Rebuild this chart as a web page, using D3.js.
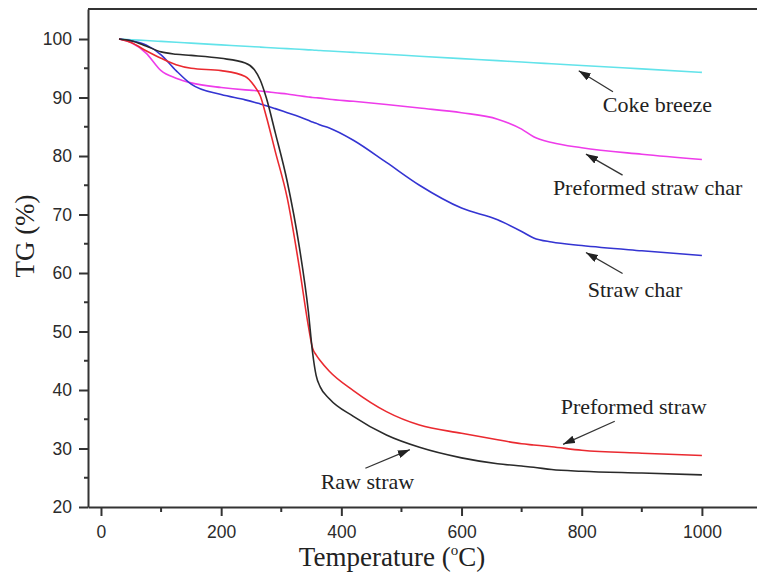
<!DOCTYPE html>
<html>
<head>
<meta charset="utf-8">
<script src="https://cdn.jsdelivr.net/npm/d3@7"></script>
<style>
  html, body { margin: 0; padding: 0; background: #fff; overflow: hidden; }
  svg { display: block; }
</style>
</head>
<body>
<svg id="chart" width="757" height="577"></svg>
<script>
// Temperature grid (°C) shared by all thermogravimetric curves
const temperature = [30, 50, 75, 100, 125, 150, 200, 240, 255, 265, 275, 290, 310, 330, 345,
  352, 358, 365, 380, 420, 475, 530, 600, 660, 700, 720, 750, 800, 900, 1000];

// Mass remaining (TG, %) for each sample
const cokeBreeze = [100, 99.88, 99.74, 99.59, 99.44, 99.29, 99.0, 98.77, 98.68, 98.62, 98.56, 98.47,
  98.35, 98.24, 98.15, 98.11, 98.07, 98.03, 97.94, 97.71, 97.39, 97.06, 96.65, 96.3, 96.06, 95.95,
  95.77, 95.48, 94.89, 94.3];
const preformedStrawChar = [100, 99.4, 97.6, 94.6, 93.3, 92.5, 91.7, 91.3, 91.2, 91.1, 91.0, 90.8,
  90.6, 90.3, 90.1, 90.0, 89.95, 89.9, 89.7, 89.35, 88.8, 88.2, 87.4, 86.3, 84.6, 83.3, 82.3, 81.4,
  80.3, 79.4];
const strawChar = [100, 99.7, 99.0, 97.3, 94.6, 92.3, 90.5, 89.6, 89.2, 88.9, 88.6, 88.1, 87.4, 86.7,
  86.1, 85.8, 85.6, 85.3, 84.8, 82.7, 78.9, 75.0, 71.1, 69.1, 67.1, 66.0, 65.3, 64.7, 63.8, 63.0];
const preformedStraw = [100, 99.4, 98.0, 96.7, 95.6, 95.0, 94.6, 93.6, 92.0, 90.3, 86.8, 80.8, 72.8,
  61.0, 51.0, 47.2, 46.0, 45.0, 43.2, 39.9, 36.3, 34.0, 32.6, 31.5, 30.8, 30.6, 30.3, 29.7, 29.2, 28.8];
const rawStraw = [100, 99.7, 98.8, 97.8, 97.4, 97.2, 96.7, 95.9, 94.8, 93.0, 90.0, 84.0, 75.6, 64.5,
  53.5, 46.5, 42.5, 40.5, 38.5, 35.5, 32.3, 30.2, 28.4, 27.4, 27.0, 26.8, 26.4, 26.1, 25.8, 25.5];

// Axis ticks
const xTicks = [0, 200, 400, 600, 800, 1000];
const xMinorTicks = [100, 300, 500, 700, 900];
const yTicks = [20, 30, 40, 50, 60, 70, 80, 90, 100];
const yMinorTicks = [25, 35, 45, 55, 65, 75, 85, 95];

// Curve drawing order and colours
const seriesNames = ["Coke breeze", "Preformed straw char", "Straw char", "Preformed straw", "Raw straw"];
const seriesValues = [cokeBreeze, preformedStrawChar, strawChar, preformedStraw, rawStraw];
const seriesColors = ["#62e3ea", "#ee3cea", "#3434d2", "#ea2a30", "#2a2a2a"];

// Annotation labels: text anchor point and arrow (tail -> head) in data units
const labelText = ["Coke breeze", "Preformed straw char", "Straw char", "Preformed straw", "Raw straw"];
const labelAt = [[835, 87.56], [752, 73.3], [810, 55.92], [765, 35.97], [365.6, 23.02]];
const arrowFrom = [[852, 90.98], [868, 76.74], [868, 59.92], [855, 34.66], [440, 26.62]];
const arrowTo = [[795, 94.58], [807, 80.33], [807, 63.51], [769, 30.72], [514, 29.8]];

const svg = d3.select("#chart");
const plot = { left: 88, right: 762, top: 9, bottom: 507 };

const x = d3.scaleLinear().domain([-21.6, 1100]).range([plot.left, plot.right]);
const y = d3.scaleLinear().domain([20, 105.13]).range([plot.bottom, plot.top]);

const axisColor = "#333";
const sansFont = "'Liberation Sans', Arial, sans-serif";
const serifFont = "'Liberation Serif', 'Times New Roman', serif";

// Curves
const line = d3.line()
  .x(d => x(d[0]))
  .y(d => y(d[1]))
  .curve(d3.curveMonotoneX);

svg.append("g").selectAll("path")
  .data(seriesValues.map((vals, i) => ({ name: seriesNames[i], color: seriesColors[i],
    pts: temperature.map((t, j) => [t, vals[j]]) })))
  .join("path")
  .attr("d", d => line(d.pts))
  .attr("fill", "none")
  .attr("stroke", d => d.color)
  .attr("stroke-width", 1.6)
  .attr("stroke-linejoin", "round");

// Frame: top edge
svg.append("line")
  .attr("x1", plot.left).attr("x2", plot.right)
  .attr("y1", plot.top).attr("y2", plot.top)
  .attr("stroke", axisColor).attr("stroke-width", 2);

// Bottom axis
const xAxis = svg.append("g")
  .attr("transform", `translate(0,${plot.bottom})`)
  .call(d3.axisBottom(x).tickValues(xTicks).tickSize(9).tickSizeOuter(0).tickPadding(10)
    .tickFormat(d3.format("d")));
xAxis.append("g").selectAll("line")
  .data(xMinorTicks).join("line")
  .attr("x1", d => x(d)).attr("x2", d => x(d))
  .attr("y1", 0).attr("y2", 5)
  .attr("stroke", axisColor).attr("stroke-width", 2);

// Left axis
const yAxis = svg.append("g")
  .attr("transform", `translate(${plot.left},0)`)
  .call(d3.axisLeft(y).tickValues(yTicks).tickSize(9).tickSizeOuter(0).tickPadding(7)
    .tickFormat(d3.format("d")));
yAxis.append("g").selectAll("line")
  .data(yMinorTicks).join("line")
  .attr("x1", 0).attr("x2", -4)
  .attr("y1", d => y(d)).attr("y2", d => y(d))
  .attr("stroke", axisColor).attr("stroke-width", 2);

[xAxis, yAxis].forEach(g => {
  g.select(".domain").attr("stroke", axisColor).attr("stroke-width", 2);
  g.selectAll(".tick line").attr("stroke", axisColor).attr("stroke-width", 2);
  g.selectAll(".tick text")
    .attr("fill", "#2b2b2b")
    .style("font-family", sansFont)
    .style("font-size", "17.5px");
});

// Axis titles
svg.append("text")
  .attr("transform", `translate(34,236) rotate(-90)`)
  .attr("text-anchor", "middle")
  .style("font-family", serifFont)
  .style("font-size", "27px")
  .attr("fill", "#222")
  .text("TG (%)");

const xTitle = svg.append("text")
  .attr("x", 392).attr("y", 566)
  .attr("text-anchor", "middle")
  .style("font-family", serifFont)
  .style("font-size", "27px")
  .attr("fill", "#222");
xTitle.append("tspan").text("Temperature (");
xTitle.append("tspan").attr("dy", -11).style("font-size", "15px").text("o");
xTitle.append("tspan").attr("dy", 11).text("C)");

// Annotations with arrows
const defs = svg.append("defs");
defs.append("marker")
  .attr("id", "arrowhead")
  .attr("viewBox", "0 0 12 8")
  .attr("refX", 12).attr("refY", 4)
  .attr("markerWidth", 12).attr("markerHeight", 8)
  .attr("markerUnits", "userSpaceOnUse")
  .attr("orient", "auto")
  .append("path")
  .attr("d", "M0,0 L12,4 L0,8 Z")
  .attr("fill", "#222");

const notes = svg.append("g");
labelText.forEach((t, i) => {
  notes.append("line")
    .attr("x1", x(arrowFrom[i][0])).attr("y1", y(arrowFrom[i][1]))
    .attr("x2", x(arrowTo[i][0])).attr("y2", y(arrowTo[i][1]))
    .attr("stroke", "#333").attr("stroke-width", 1.3)
    .attr("marker-end", "url(#arrowhead)");
  notes.append("text")
    .attr("x", x(labelAt[i][0])).attr("y", y(labelAt[i][1]))
    .style("font-family", serifFont)
    .style("font-size", "22px")
    .attr("fill", "#222")
    .text(t);
});
</script>
</body>
</html>
